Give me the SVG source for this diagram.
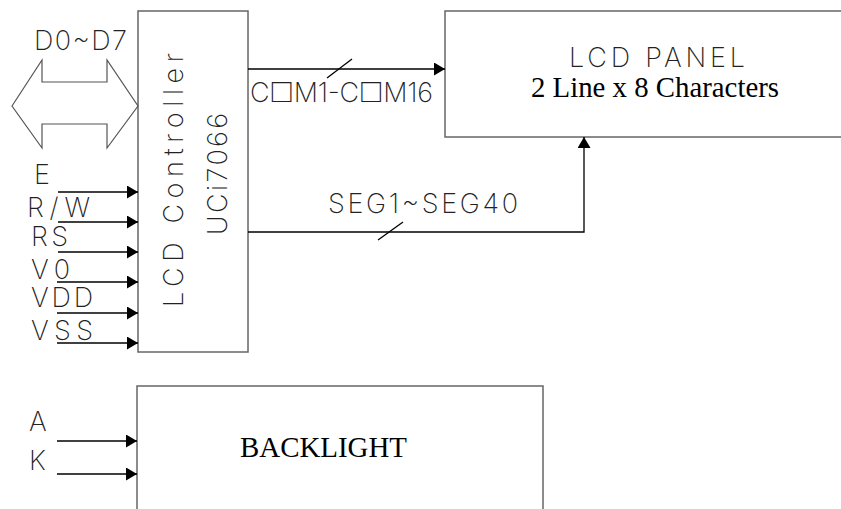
<svg xmlns="http://www.w3.org/2000/svg" width="841" height="509" viewBox="0 0 841 509">
<style>
.box{fill:#fff;stroke:#666;stroke-width:1.5}
.ln{fill:none;stroke:#000;stroke-width:1.3}
.cad{font-family:Inter,"DejaVu Sans",sans-serif;font-weight:200;font-size:27px;fill:#222}
.ser{font-family:"Liberation Serif","Times New Roman",serif;font-size:30px;fill:#000}
</style>
<defs>
<marker id="ah" markerUnits="userSpaceOnUse" markerWidth="12" markerHeight="14" refX="11" refY="6.5" orient="auto">
<path d="M0,0 L11,6.5 L0,13 Z" fill="#000"/>
</marker>
</defs>
<rect width="841" height="509" fill="#fff"/>
<g id="controller">
<rect class="box" x="138" y="11" width="110" height="341"/>
<text class="cad" x="183" y="307" transform="rotate(-90 183 307)" textLength="254" lengthAdjust="spacing">LCD Controller</text>
<text class="cad" x="227" y="235" transform="rotate(-90 227 235)" textLength="122" lengthAdjust="spacing">UCi7066</text>
</g>
<g id="lcd-panel">
<rect class="box" x="445" y="11" width="400" height="126"/>
<text class="cad" x="569" y="67" textLength="176" lengthAdjust="spacing">LCD PANEL</text>
<text class="ser" x="531" y="97" textLength="248" lengthAdjust="spacingAndGlyphs">2 Line x 8 Characters</text>
</g>
<g id="backlight">
<rect class="box" x="137" y="386" width="406" height="130"/>
<text class="ser" x="240" y="457" textLength="167" lengthAdjust="spacingAndGlyphs">BACKLIGHT</text>
</g>
<g id="data-bus">
<polygon points="12,106 42,60 42,82 107,82 107,60 138,106 107,148 107,124 42,124 42,148" fill="none" stroke="#555" stroke-width="1.2"/>
<text class="cad" x="34" y="50" textLength="93" lengthAdjust="spacing">D0~D7</text>
</g>
<g id="connectors">
<line class="ln" x1="248" y1="69" x2="445" y2="69" marker-end="url(#ah)"/>
<line class="ln" x1="327" y1="78" x2="352" y2="59"/>
<text class="cad" x="250" y="102" textLength="183" lengthAdjust="spacing">C□M1-C□M16</text>
<polyline class="ln" points="248,232 584,232 584,137" marker-end="url(#ah)"/>
<line class="ln" x1="378" y1="240" x2="403" y2="222"/>
<text class="cad" x="328" y="213" textLength="190" lengthAdjust="spacing">SEG1~SEG40</text>
<line class="ln" x1="58" y1="192" x2="138" y2="192" marker-end="url(#ah)"/>
<line class="ln" x1="58" y1="222" x2="138" y2="222" marker-end="url(#ah)"/>
<line class="ln" x1="58" y1="252" x2="138" y2="252" marker-end="url(#ah)"/>
<line class="ln" x1="57" y1="282" x2="138" y2="282" marker-end="url(#ah)"/>
<line class="ln" x1="57" y1="313" x2="138" y2="313" marker-end="url(#ah)"/>
<line class="ln" x1="57" y1="343" x2="138" y2="343" marker-end="url(#ah)"/>
<line class="ln" x1="57" y1="441" x2="137" y2="441" marker-end="url(#ah)"/>
<line class="ln" x1="57" y1="474" x2="137" y2="474" marker-end="url(#ah)"/>
<text class="cad" x="34" y="184">E</text>
<text class="cad" x="27" y="217" textLength="63" lengthAdjust="spacing">R/W</text>
<text class="cad" x="31" y="246" textLength="37" lengthAdjust="spacing">RS</text>
<text class="cad" x="31" y="279" textLength="39" lengthAdjust="spacing">V0</text>
<text class="cad" x="31" y="307" textLength="62" lengthAdjust="spacing">VDD</text>
<text class="cad" x="31" y="340" textLength="62" lengthAdjust="spacing">VSS</text>
<text class="cad" x="29" y="431">A</text>
<text class="cad" x="29" y="470">K</text>
</g>
</svg>
